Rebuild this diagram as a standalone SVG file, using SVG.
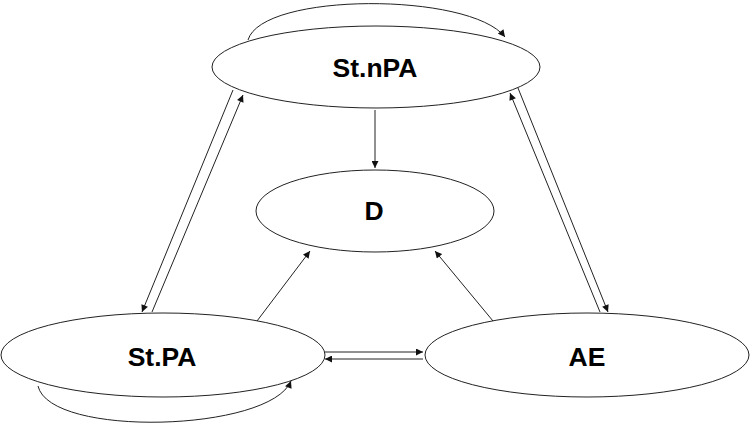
<svg xmlns="http://www.w3.org/2000/svg" width="750" height="424" viewBox="0 0 750 424">
<style>
.node{fill:#fff;stroke:#222;stroke-width:1}
.lbl{font-family:"Liberation Sans",Arial,sans-serif;font-weight:bold;font-size:26.5px;fill:#000;text-anchor:middle}
.edge{fill:none;stroke:#222;stroke-width:1;marker-end:url(#ah)}
</style>
<defs>
<marker id="ah" viewBox="0 0 10 10" refX="10" refY="5" markerWidth="9" markerHeight="7" markerUnits="userSpaceOnUse" orient="auto">
<path d="M0,0 L10,5 L0,10 z" fill="#111"/>
</marker>
</defs>
<rect width="750" height="424" fill="#fff"/>
<g id="node-stnpa"><ellipse class="node" cx="376" cy="67" rx="164" ry="41"/><text class="lbl" x="375" y="77">St.nPA</text></g>
<g id="node-d"><ellipse class="node" cx="375" cy="211" rx="119" ry="41"/><text class="lbl" x="374" y="220">D</text></g>
<g id="node-stpa"><ellipse class="node" cx="163" cy="355" rx="162" ry="42"/><text class="lbl" x="162" y="366">St.PA</text></g>
<g id="node-ae"><ellipse class="node" cx="587" cy="355" rx="162" ry="42"/><text class="lbl" x="587" y="366">AE</text></g>
<g id="connectors">
<path class="edge" d="M248,40 C262,-8 470,-8 505,37"/>
<path class="edge" d="M38,386 C50,438 270,432 291,381"/>
<path class="edge" d="M233,90 L142,312"/>
<path class="edge" d="M152,312 L243,95"/>
<path class="edge" d="M600,312 L510,93"/>
<path class="edge" d="M518,88 L608,312"/>
<path class="edge" d="M375,110 L375,168"/>
<path class="edge" d="M257,321 L310,251"/>
<path class="edge" d="M493,321 L435,251"/>
<path class="edge" d="M325,352 L423,352"/>
<path class="edge" d="M423,359 L325,359"/>
</g>
</svg>
